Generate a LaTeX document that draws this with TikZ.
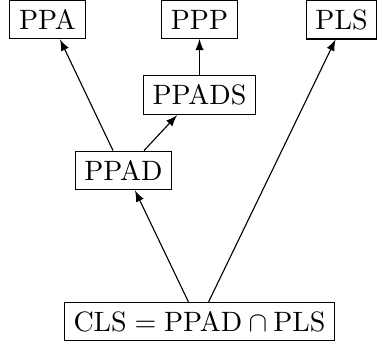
\documentclass[tikz,border=0pt]{standalone}
\begin{document}
\begin{tikzpicture}[x={(0.35714pt,0pt)},y={(0pt,-0.35714pt)},
  cls/.style={draw,inner sep=3.333pt},
  arr/.style={-latex}]
\useasboundingbox (0,0) rectangle (379,343);
\node[cls] (ppa) at (47.5,19.5) {PPA};
\node[cls] (ppp) at (199.5,19.5) {PPP};
\node[cls] (pls) at (341.5,19.5) {PLS};
\node[cls] (ppads) at (199.5,95) {PPADS};
\node[cls] (ppad) at (123.5,170.5) {PPAD};
\node[cls] (clsn) at (199.5,321.5) {$\mathrm{CLS}=\mathrm{PPAD}\cap\mathrm{PLS}$};
\draw[arr] ([shift={(-11,0)}]clsn.north) -- ([shift={(11.5,0)}]ppad.south);
\draw[arr] ([shift={(9,0)}]clsn.north) -- ([shift={(-6,0)}]pls.south);
\draw[arr] ([shift={(-10.5,0)}]ppad.north) -- ([shift={(12.5,0)}]ppa.south);
\draw[arr] ([shift={(20.5,0)}]ppad.north) -- ([shift={(-22.5,0)}]ppads.south);
\draw[arr] (ppads.north) -- (ppp.south);
\end{tikzpicture}
\end{document}
